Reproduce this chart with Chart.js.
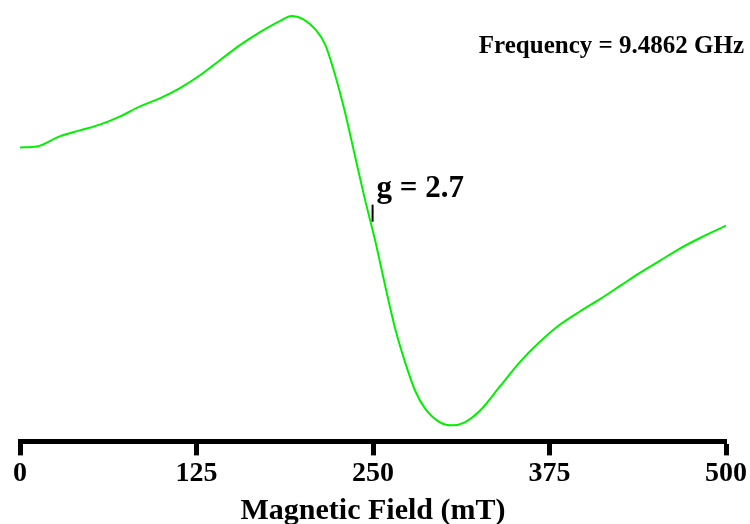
<!DOCTYPE html>
<html>
<head>
<meta charset="utf-8">
<script src="https://cdn.jsdelivr.net/npm/chart.js@4"></script>
<style>
  body { margin: 0; background: #fff; }
  #caja { width: 750px; height: 524px; }
</style>
</head>
<body>
<div id="caja"><canvas id="espectro"></canvas></div>
<script>
// campo magnético (mT) y señal (unidades arbitrarias)
var campo = [0, 12, 28, 42.5, 57, 71, 85, 99, 113, 127.5, 141.6, 155.8, 170, 184, 192.6, 200.4, 209, 216, 223, 230, 237, 244, 251.4, 258.5, 265.6, 272.7, 279.7, 286.8, 297.5, 306, 315, 326, 340, 354, 368, 382, 397, 411, 425, 439, 453, 467, 482, 500];
var senal = [293, 294, 304, 310, 316, 324, 334, 342, 352, 365, 380, 395, 408, 419, 424, 421, 411, 396, 366, 329, 286, 243, 201, 156, 113, 79, 51, 33, 19, 16, 19, 31, 55, 79, 99, 116, 130, 142, 155, 168, 180, 192, 203, 215];
var marcasX = [0, 125, 250, 375, 500];

var tituloX = 'Magnetic Field (mT)';
var textoFrecuencia = 'Frequency = 9.4862 GHz';
var textoG = 'g = 2.7';
var campoG = 249; // posición de la marca g

var puntos = [];
for (var i = 0; i < campo.length; i++) {
	puntos.push({ x: campo[i], y: senal[i] });
}

var fuente = '"Liberation Serif", "Times New Roman", serif';

// dibuja los textos de frecuencia y factor g
var anotaciones = {
	id: 'anotaciones',
	afterDraw: function (chart) {
		var ctx = chart.ctx;
		var ex = chart.scales.x;
		var ey = chart.scales.y;
		ctx.save();
		ctx.fillStyle = '#000';
		ctx.textBaseline = 'middle';
		ctx.font = 'bold 25px ' + fuente;
		ctx.textAlign = 'right';
		ctx.fillText(textoFrecuencia, 744, 47);

		var px = ex.getPixelForValue(campoG) + 1;
		ctx.strokeStyle = '#000';
		ctx.lineWidth = 2;
		ctx.beginPath();
		ctx.moveTo(px, ey.getPixelForValue(236));
		ctx.lineTo(px, ey.getPixelForValue(219));
		ctx.stroke();

		ctx.font = 'bold 31px ' + fuente;
		ctx.textAlign = 'left';
		ctx.fillText(textoG, px + 4, 189);
		ctx.restore();
	}
};

var config = {
	type: 'line',
	data: {
		datasets: [{
			data: puntos,
			borderColor: 'rgb(0,240,0)',
			borderWidth: 2,
			pointRadius: 0,
			cubicInterpolationMode: 'monotone',
			fill: false
		}]
	},
	options: {
		responsive: true,
		maintainAspectRatio: false,
		animation: false,
		layout: { padding: { left: 20, right: 24, top: 0, bottom: -5 } },
		plugins: { legend: { display: false }, tooltip: { enabled: false } },
		scales: {
			x: {
				type: 'linear',
				min: 0,
				max: 500,
				afterBuildTicks: function (eje) {
					eje.ticks = marcasX.map(function (v) { return { value: v }; });
				},
				grid: { drawOnChartArea: false, drawTicks: true, tickLength: 14, tickWidth: 5, tickColor: '#000' },
				border: { display: true, width: 5, color: '#000' },
				ticks: {
					color: '#000',
					padding: 2,
					maxRotation: 0,
					font: { family: fuente, size: 28, weight: 'bold' }
				},
				title: {
					display: true,
					text: tituloX,
					color: '#000',
					padding: { top: 0, bottom: 0 },
					font: { family: fuente, size: 30, weight: 'bold' }
				}
			},
			y: {
				display: false,
				min: 0,
				max: 440
			}
		}
	},
	plugins: [anotaciones]
};

var grafica = new Chart(document.getElementById('espectro'), config);
</script>
</body>
</html>
